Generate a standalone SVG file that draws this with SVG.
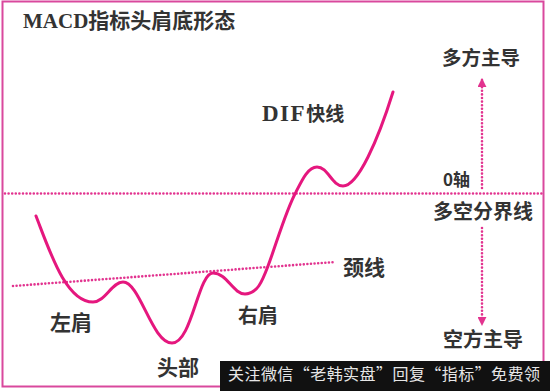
<svg xmlns="http://www.w3.org/2000/svg" width="550" height="391" viewBox="0 0 550 391">
<defs>
<style>
.lbl{font-family:"Noto Sans CJK SC","Liberation Sans",sans-serif;font-weight:bold;fill:#333;}
.ser{font-family:"Liberation Serif","Noto Sans CJK SC",serif;font-weight:bold;fill:#333;}
.dot{fill:none;stroke:#e2338f;stroke-width:2.6;stroke-dasharray:0 3.6;stroke-linecap:round;}
.curve{fill:none;stroke:#e5177e;stroke-width:3;stroke-linecap:round;stroke-linejoin:round;}
</style>
<marker id="ah" viewBox="0 0 10 10" refX="9" refY="5" markerWidth="9" markerHeight="9" markerUnits="userSpaceOnUse" orient="auto">
<path d="M0,0 L10,5 L0,10 z" fill="#e2338f"/>
</marker>
</defs>
<rect x="0" y="0" width="550" height="391" fill="#ffffff"/>
<rect id="frame" x="2.5" y="1.5" width="541" height="385" fill="none" stroke="#d9489d" stroke-width="2"/>
<g id="connectors">
<line id="zero-line" class="dot" x1="5" y1="193.5" x2="542" y2="193.5"/>
<line id="neckline" class="dot" x1="13" y1="286" x2="335" y2="262"/>
<line id="up-arrow" class="dot" x1="482" y1="188" x2="482" y2="79" marker-end="url(#ah)"/>
<line id="down-arrow" class="dot" x1="482" y1="228" x2="482" y2="325" marker-end="url(#ah)"/>
</g>
<g id="dif-curve">
<path class="curve" d="M36,216 C50,252 66,302 93,302 C105,302 112,282 123,282 C140,282 152,343 172,343 C192,343 198,273 213,273 C227,273 233,294 245,294 C257,294 262,282 268,266 C276,245 286,210 296,192 C302,180 308,167 317,167 C328,167 332,186 343,186 C358,186 378,140 393,92"/>
</g>
<g id="title"><text class="ser" x="23" y="28" font-size="21">MACD指标头肩底形态</text></g>
<g id="dif-label"><text class="ser" x="262" y="121" font-size="19"><tspan font-size="23" letter-spacing="1.5">DIF</tspan>快线</text></g>
<g id="bull-label"><text class="lbl" x="442" y="65" font-size="19.5">多方主导</text></g>
<g id="zero-label"><text class="lbl" x="443" y="186" font-size="17">0轴</text></g>
<g id="divide-label"><text class="lbl" x="433" y="219" font-size="20">多空分界线</text></g>
<g id="neck-label"><text class="lbl" x="343" y="275" font-size="21">颈线</text></g>
<g id="left-shoulder"><text class="lbl" x="50" y="330" font-size="21">左肩</text></g>
<g id="head"><text class="lbl" x="157" y="375" font-size="21">头部</text></g>
<g id="right-shoulder"><text class="lbl" x="238" y="323" font-size="20">右肩</text></g>
<g id="bear-label"><text class="lbl" x="443" y="347" font-size="20">空方主导</text></g>
<g id="banner">
<rect x="220" y="361" width="330" height="30" fill="#111"/>
<text x="228" y="380" font-size="16" textLength="312" font-family="'Noto Sans CJK SC','Liberation Sans',sans-serif" fill="#e6e6e6">关注微信“老韩实盘”回复“指标”免费领</text>
</g>
</svg>
